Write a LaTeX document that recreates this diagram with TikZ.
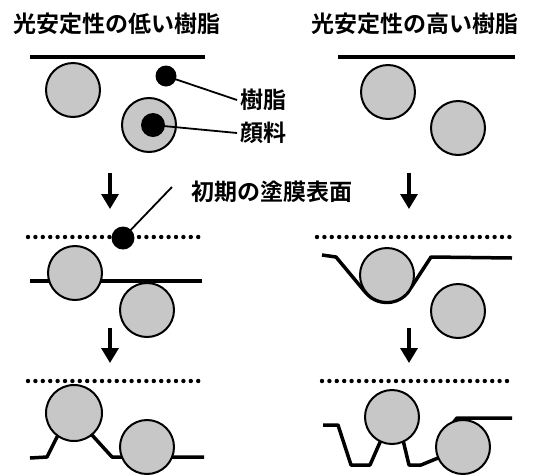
\documentclass[tikz,border=0pt]{standalone}
\usepackage{fontspec}
\newfontfamily\jpfont{Noto Sans CJK JP Bold}
\usetikzlibrary{arrows.meta}

\begin{document}
\begin{tikzpicture}[x=1pt,y=-1pt,
  txt/.style={font=\jpfont\fontsize{23}{23}\selectfont},
  film/.style={line width=3.5pt,line join=round},
  surface/.style={line width=4.4pt,line cap=round,dash pattern=on 0pt off 7.4pt},
  pigment/.style={circle,draw,line width=2pt,fill=black!22,inner sep=0pt,minimum size=#1},
  pigment/.default=54pt,
  blob/.style={circle,fill=black,inner sep=0pt,minimum size=#1},
  blob/.default=21pt,
  lead/.style={line width=1.8pt},
  down/.style={line width=3.4pt,-{Triangle[length=15pt,width=17pt]}}]
\useasboundingbox (0,0) rectangle (533,475);

\node[txt] (low) at (117,24) {光安定性の低い樹脂};
\node[txt] (high) at (415,24) {光安定性の高い樹脂};
\node[txt,anchor=west] (resin) at (237,100) {樹脂};
\node[txt,anchor=west] (pig) at (237,133) {顔料};
\node[txt] (init) at (272,192) {初期の塗膜表面};

\draw[film] (30,57) -- (205,57);
\draw[film] (338,57) -- (515,57);
\node[pigment] (a1) at (73,90) {};
\node[pigment] (a2) at (149,125) {};
\node[pigment] (b1) at (388,92) {};
\node[pigment] (b2) at (458,128) {};
\node[blob] (rdot) at (166,76) {};
\node[blob,minimum size=24pt] (pdot) at (153,125) {};
\draw[lead] (rdot.center) -- (resin.west);
\draw[lead] (pdot.center) -- (pig.west);

\foreach \x in {110,409} {
  \draw[down] (\x,173) -- (\x,209);
  \draw[down] (\x,328) -- (\x,363);
}

\draw[surface] (28,237) -- (202,237);
\draw[surface] (317,237) -- (512,237);
\draw[film] (30,281) -- (202,281);
\draw[film] (322,255) -- (336,257) -- (366,293)
  arc[start angle=139,end angle=41,radius=27.5] -- (431,257) -- (512,258);
\node[pigment] (a3) at (75,273) {};
\node[pigment] (a4) at (147,310) {};
\node[pigment] (b3) at (387,275) {};
\node[pigment] (b4) at (458,311) {};
\node[blob,minimum size=23pt] (sdot) at (123,238) {};
\draw[lead] (sdot.center) -- ([shift={(-16,-5)}]init.west);

\draw[surface] (28,381) -- (202,381);
\draw[surface] (322,381) -- (512,381);
\draw[film] (30,458) -- (47,457) -- (58,435) -- (92,435) -- (112,457) -- (204,457);
\draw[film] (323,425) -- (338,425) -- (351,465) -- (370,465) -- (381,440) -- (403,440)
  -- (409,465) -- (421,465) -- (438,458);
\draw[film] (444,434) -- (457,418) -- (512,418);
\node[pigment,minimum size=56pt] (a5) at (74,413) {};
\node[pigment] (a6) at (147,447) {};
\node[pigment] (b5) at (392,417) {};
\node[pigment] (b6) at (463,447) {};
\end{tikzpicture}
\end{document}
